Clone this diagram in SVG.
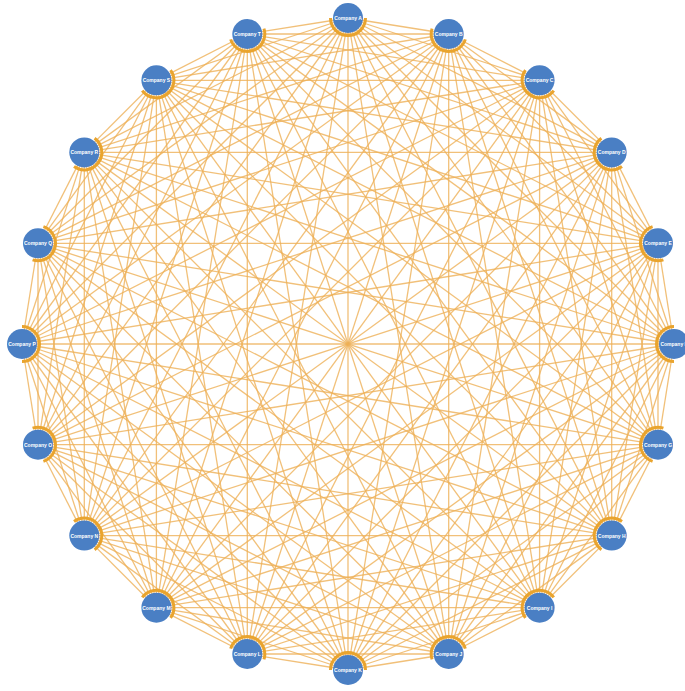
<svg xmlns="http://www.w3.org/2000/svg" width="685" height="691" viewBox="0 0 685 691">
<style>
.e{stroke:#eeb057;stroke-width:1.3;stroke-opacity:0.8;fill:none}
.arc{fill:none;stroke:#e9a42e;stroke-width:3}
.n{fill:#4a7fc4}
.t{fill:#ffffff;font-family:"Liberation Sans",Arial,sans-serif;font-size:5px;font-weight:bold;text-anchor:middle;dominant-baseline:central}
</style>
<defs>
<path id="a" d="M0,-17.5 A17.5,17.5 0 0 1 0,17.5"/>
</defs>
<rect width="685" height="691" fill="#ffffff"/>
<g id="connectors">
<line class="e" x1="348" y1="18" x2="448.7" y2="34"/>
<line class="e" x1="348" y1="18" x2="539.6" y2="80.3"/>
<line class="e" x1="348" y1="18" x2="611.7" y2="152.4"/>
<line class="e" x1="348" y1="18" x2="658" y2="243.3"/>
<line class="e" x1="348" y1="18" x2="674" y2="344"/>
<line class="e" x1="348" y1="18" x2="658" y2="444.7"/>
<line class="e" x1="348" y1="18" x2="611.7" y2="535.6"/>
<line class="e" x1="348" y1="18" x2="539.6" y2="607.7"/>
<line class="e" x1="348" y1="18" x2="448.7" y2="654"/>
<line class="e" x1="348" y1="18" x2="348" y2="670"/>
<line class="e" x1="348" y1="18" x2="247.3" y2="654"/>
<line class="e" x1="348" y1="18" x2="156.4" y2="607.7"/>
<line class="e" x1="348" y1="18" x2="84.3" y2="535.6"/>
<line class="e" x1="348" y1="18" x2="38" y2="444.7"/>
<line class="e" x1="348" y1="18" x2="22" y2="344"/>
<line class="e" x1="348" y1="18" x2="38" y2="243.3"/>
<line class="e" x1="348" y1="18" x2="84.3" y2="152.4"/>
<line class="e" x1="348" y1="18" x2="156.4" y2="80.3"/>
<line class="e" x1="348" y1="18" x2="247.3" y2="34"/>
<line class="e" x1="448.7" y1="34" x2="539.6" y2="80.3"/>
<line class="e" x1="448.7" y1="34" x2="611.7" y2="152.4"/>
<line class="e" x1="448.7" y1="34" x2="658" y2="243.3"/>
<line class="e" x1="448.7" y1="34" x2="674" y2="344"/>
<line class="e" x1="448.7" y1="34" x2="658" y2="444.7"/>
<line class="e" x1="448.7" y1="34" x2="611.7" y2="535.6"/>
<line class="e" x1="448.7" y1="34" x2="539.6" y2="607.7"/>
<line class="e" x1="448.7" y1="34" x2="448.7" y2="654"/>
<line class="e" x1="448.7" y1="34" x2="348" y2="670"/>
<line class="e" x1="448.7" y1="34" x2="247.3" y2="654"/>
<line class="e" x1="448.7" y1="34" x2="156.4" y2="607.7"/>
<line class="e" x1="448.7" y1="34" x2="84.3" y2="535.6"/>
<line class="e" x1="448.7" y1="34" x2="38" y2="444.7"/>
<line class="e" x1="448.7" y1="34" x2="22" y2="344"/>
<line class="e" x1="448.7" y1="34" x2="38" y2="243.3"/>
<line class="e" x1="448.7" y1="34" x2="84.3" y2="152.4"/>
<line class="e" x1="448.7" y1="34" x2="156.4" y2="80.3"/>
<line class="e" x1="448.7" y1="34" x2="247.3" y2="34"/>
<line class="e" x1="539.6" y1="80.3" x2="611.7" y2="152.4"/>
<line class="e" x1="539.6" y1="80.3" x2="658" y2="243.3"/>
<line class="e" x1="539.6" y1="80.3" x2="674" y2="344"/>
<line class="e" x1="539.6" y1="80.3" x2="658" y2="444.7"/>
<line class="e" x1="539.6" y1="80.3" x2="611.7" y2="535.6"/>
<line class="e" x1="539.6" y1="80.3" x2="539.6" y2="607.7"/>
<line class="e" x1="539.6" y1="80.3" x2="448.7" y2="654"/>
<line class="e" x1="539.6" y1="80.3" x2="348" y2="670"/>
<line class="e" x1="539.6" y1="80.3" x2="247.3" y2="654"/>
<line class="e" x1="539.6" y1="80.3" x2="156.4" y2="607.7"/>
<line class="e" x1="539.6" y1="80.3" x2="84.3" y2="535.6"/>
<line class="e" x1="539.6" y1="80.3" x2="38" y2="444.7"/>
<line class="e" x1="539.6" y1="80.3" x2="22" y2="344"/>
<line class="e" x1="539.6" y1="80.3" x2="38" y2="243.3"/>
<line class="e" x1="539.6" y1="80.3" x2="84.3" y2="152.4"/>
<line class="e" x1="539.6" y1="80.3" x2="156.4" y2="80.3"/>
<line class="e" x1="539.6" y1="80.3" x2="247.3" y2="34"/>
<line class="e" x1="611.7" y1="152.4" x2="658" y2="243.3"/>
<line class="e" x1="611.7" y1="152.4" x2="674" y2="344"/>
<line class="e" x1="611.7" y1="152.4" x2="658" y2="444.7"/>
<line class="e" x1="611.7" y1="152.4" x2="611.7" y2="535.6"/>
<line class="e" x1="611.7" y1="152.4" x2="539.6" y2="607.7"/>
<line class="e" x1="611.7" y1="152.4" x2="448.7" y2="654"/>
<line class="e" x1="611.7" y1="152.4" x2="348" y2="670"/>
<line class="e" x1="611.7" y1="152.4" x2="247.3" y2="654"/>
<line class="e" x1="611.7" y1="152.4" x2="156.4" y2="607.7"/>
<line class="e" x1="611.7" y1="152.4" x2="84.3" y2="535.6"/>
<line class="e" x1="611.7" y1="152.4" x2="38" y2="444.7"/>
<line class="e" x1="611.7" y1="152.4" x2="22" y2="344"/>
<line class="e" x1="611.7" y1="152.4" x2="38" y2="243.3"/>
<line class="e" x1="611.7" y1="152.4" x2="84.3" y2="152.4"/>
<line class="e" x1="611.7" y1="152.4" x2="156.4" y2="80.3"/>
<line class="e" x1="611.7" y1="152.4" x2="247.3" y2="34"/>
<line class="e" x1="658" y1="243.3" x2="674" y2="344"/>
<line class="e" x1="658" y1="243.3" x2="658" y2="444.7"/>
<line class="e" x1="658" y1="243.3" x2="611.7" y2="535.6"/>
<line class="e" x1="658" y1="243.3" x2="539.6" y2="607.7"/>
<line class="e" x1="658" y1="243.3" x2="448.7" y2="654"/>
<line class="e" x1="658" y1="243.3" x2="348" y2="670"/>
<line class="e" x1="658" y1="243.3" x2="247.3" y2="654"/>
<line class="e" x1="658" y1="243.3" x2="156.4" y2="607.7"/>
<line class="e" x1="658" y1="243.3" x2="84.3" y2="535.6"/>
<line class="e" x1="658" y1="243.3" x2="38" y2="444.7"/>
<line class="e" x1="658" y1="243.3" x2="22" y2="344"/>
<line class="e" x1="658" y1="243.3" x2="38" y2="243.3"/>
<line class="e" x1="658" y1="243.3" x2="84.3" y2="152.4"/>
<line class="e" x1="658" y1="243.3" x2="156.4" y2="80.3"/>
<line class="e" x1="658" y1="243.3" x2="247.3" y2="34"/>
<line class="e" x1="674" y1="344" x2="658" y2="444.7"/>
<line class="e" x1="674" y1="344" x2="611.7" y2="535.6"/>
<line class="e" x1="674" y1="344" x2="539.6" y2="607.7"/>
<line class="e" x1="674" y1="344" x2="448.7" y2="654"/>
<line class="e" x1="674" y1="344" x2="348" y2="670"/>
<line class="e" x1="674" y1="344" x2="247.3" y2="654"/>
<line class="e" x1="674" y1="344" x2="156.4" y2="607.7"/>
<line class="e" x1="674" y1="344" x2="84.3" y2="535.6"/>
<line class="e" x1="674" y1="344" x2="38" y2="444.7"/>
<line class="e" x1="674" y1="344" x2="22" y2="344"/>
<line class="e" x1="674" y1="344" x2="38" y2="243.3"/>
<line class="e" x1="674" y1="344" x2="84.3" y2="152.4"/>
<line class="e" x1="674" y1="344" x2="156.4" y2="80.3"/>
<line class="e" x1="674" y1="344" x2="247.3" y2="34"/>
<line class="e" x1="658" y1="444.7" x2="611.7" y2="535.6"/>
<line class="e" x1="658" y1="444.7" x2="539.6" y2="607.7"/>
<line class="e" x1="658" y1="444.7" x2="448.7" y2="654"/>
<line class="e" x1="658" y1="444.7" x2="348" y2="670"/>
<line class="e" x1="658" y1="444.7" x2="247.3" y2="654"/>
<line class="e" x1="658" y1="444.7" x2="156.4" y2="607.7"/>
<line class="e" x1="658" y1="444.7" x2="84.3" y2="535.6"/>
<line class="e" x1="658" y1="444.7" x2="38" y2="444.7"/>
<line class="e" x1="658" y1="444.7" x2="22" y2="344"/>
<line class="e" x1="658" y1="444.7" x2="38" y2="243.3"/>
<line class="e" x1="658" y1="444.7" x2="84.3" y2="152.4"/>
<line class="e" x1="658" y1="444.7" x2="156.4" y2="80.3"/>
<line class="e" x1="658" y1="444.7" x2="247.3" y2="34"/>
<line class="e" x1="611.7" y1="535.6" x2="539.6" y2="607.7"/>
<line class="e" x1="611.7" y1="535.6" x2="448.7" y2="654"/>
<line class="e" x1="611.7" y1="535.6" x2="348" y2="670"/>
<line class="e" x1="611.7" y1="535.6" x2="247.3" y2="654"/>
<line class="e" x1="611.7" y1="535.6" x2="156.4" y2="607.7"/>
<line class="e" x1="611.7" y1="535.6" x2="84.3" y2="535.6"/>
<line class="e" x1="611.7" y1="535.6" x2="38" y2="444.7"/>
<line class="e" x1="611.7" y1="535.6" x2="22" y2="344"/>
<line class="e" x1="611.7" y1="535.6" x2="38" y2="243.3"/>
<line class="e" x1="611.7" y1="535.6" x2="84.3" y2="152.4"/>
<line class="e" x1="611.7" y1="535.6" x2="156.4" y2="80.3"/>
<line class="e" x1="611.7" y1="535.6" x2="247.3" y2="34"/>
<line class="e" x1="539.6" y1="607.7" x2="448.7" y2="654"/>
<line class="e" x1="539.6" y1="607.7" x2="348" y2="670"/>
<line class="e" x1="539.6" y1="607.7" x2="247.3" y2="654"/>
<line class="e" x1="539.6" y1="607.7" x2="156.4" y2="607.7"/>
<line class="e" x1="539.6" y1="607.7" x2="84.3" y2="535.6"/>
<line class="e" x1="539.6" y1="607.7" x2="38" y2="444.7"/>
<line class="e" x1="539.6" y1="607.7" x2="22" y2="344"/>
<line class="e" x1="539.6" y1="607.7" x2="38" y2="243.3"/>
<line class="e" x1="539.6" y1="607.7" x2="84.3" y2="152.4"/>
<line class="e" x1="539.6" y1="607.7" x2="156.4" y2="80.3"/>
<line class="e" x1="539.6" y1="607.7" x2="247.3" y2="34"/>
<line class="e" x1="448.7" y1="654" x2="348" y2="670"/>
<line class="e" x1="448.7" y1="654" x2="247.3" y2="654"/>
<line class="e" x1="448.7" y1="654" x2="156.4" y2="607.7"/>
<line class="e" x1="448.7" y1="654" x2="84.3" y2="535.6"/>
<line class="e" x1="448.7" y1="654" x2="38" y2="444.7"/>
<line class="e" x1="448.7" y1="654" x2="22" y2="344"/>
<line class="e" x1="448.7" y1="654" x2="38" y2="243.3"/>
<line class="e" x1="448.7" y1="654" x2="84.3" y2="152.4"/>
<line class="e" x1="448.7" y1="654" x2="156.4" y2="80.3"/>
<line class="e" x1="448.7" y1="654" x2="247.3" y2="34"/>
<line class="e" x1="348" y1="670" x2="247.3" y2="654"/>
<line class="e" x1="348" y1="670" x2="156.4" y2="607.7"/>
<line class="e" x1="348" y1="670" x2="84.3" y2="535.6"/>
<line class="e" x1="348" y1="670" x2="38" y2="444.7"/>
<line class="e" x1="348" y1="670" x2="22" y2="344"/>
<line class="e" x1="348" y1="670" x2="38" y2="243.3"/>
<line class="e" x1="348" y1="670" x2="84.3" y2="152.4"/>
<line class="e" x1="348" y1="670" x2="156.4" y2="80.3"/>
<line class="e" x1="348" y1="670" x2="247.3" y2="34"/>
<line class="e" x1="247.3" y1="654" x2="156.4" y2="607.7"/>
<line class="e" x1="247.3" y1="654" x2="84.3" y2="535.6"/>
<line class="e" x1="247.3" y1="654" x2="38" y2="444.7"/>
<line class="e" x1="247.3" y1="654" x2="22" y2="344"/>
<line class="e" x1="247.3" y1="654" x2="38" y2="243.3"/>
<line class="e" x1="247.3" y1="654" x2="84.3" y2="152.4"/>
<line class="e" x1="247.3" y1="654" x2="156.4" y2="80.3"/>
<line class="e" x1="247.3" y1="654" x2="247.3" y2="34"/>
<line class="e" x1="156.4" y1="607.7" x2="84.3" y2="535.6"/>
<line class="e" x1="156.4" y1="607.7" x2="38" y2="444.7"/>
<line class="e" x1="156.4" y1="607.7" x2="22" y2="344"/>
<line class="e" x1="156.4" y1="607.7" x2="38" y2="243.3"/>
<line class="e" x1="156.4" y1="607.7" x2="84.3" y2="152.4"/>
<line class="e" x1="156.4" y1="607.7" x2="156.4" y2="80.3"/>
<line class="e" x1="156.4" y1="607.7" x2="247.3" y2="34"/>
<line class="e" x1="84.3" y1="535.6" x2="38" y2="444.7"/>
<line class="e" x1="84.3" y1="535.6" x2="22" y2="344"/>
<line class="e" x1="84.3" y1="535.6" x2="38" y2="243.3"/>
<line class="e" x1="84.3" y1="535.6" x2="84.3" y2="152.4"/>
<line class="e" x1="84.3" y1="535.6" x2="156.4" y2="80.3"/>
<line class="e" x1="84.3" y1="535.6" x2="247.3" y2="34"/>
<line class="e" x1="38" y1="444.7" x2="22" y2="344"/>
<line class="e" x1="38" y1="444.7" x2="38" y2="243.3"/>
<line class="e" x1="38" y1="444.7" x2="84.3" y2="152.4"/>
<line class="e" x1="38" y1="444.7" x2="156.4" y2="80.3"/>
<line class="e" x1="38" y1="444.7" x2="247.3" y2="34"/>
<line class="e" x1="22" y1="344" x2="38" y2="243.3"/>
<line class="e" x1="22" y1="344" x2="84.3" y2="152.4"/>
<line class="e" x1="22" y1="344" x2="156.4" y2="80.3"/>
<line class="e" x1="22" y1="344" x2="247.3" y2="34"/>
<line class="e" x1="38" y1="243.3" x2="84.3" y2="152.4"/>
<line class="e" x1="38" y1="243.3" x2="156.4" y2="80.3"/>
<line class="e" x1="38" y1="243.3" x2="247.3" y2="34"/>
<line class="e" x1="84.3" y1="152.4" x2="156.4" y2="80.3"/>
<line class="e" x1="84.3" y1="152.4" x2="247.3" y2="34"/>
<line class="e" x1="156.4" y1="80.3" x2="247.3" y2="34"/>
</g>
<g id="nodeA"><use href="#a" class="arc" transform="translate(348,18) rotate(90)"/><circle class="n" cx="348" cy="18" r="15"/><text class="t" x="348" y="18">Company A</text></g>
<g id="nodeB"><use href="#a" class="arc" transform="translate(448.7,34) rotate(108)"/><circle class="n" cx="448.7" cy="34" r="15"/><text class="t" x="448.7" y="34">Company B</text></g>
<g id="nodeC"><use href="#a" class="arc" transform="translate(539.6,80.3) rotate(126)"/><circle class="n" cx="539.6" cy="80.3" r="15"/><text class="t" x="539.6" y="80.3">Company C</text></g>
<g id="nodeD"><use href="#a" class="arc" transform="translate(611.7,152.4) rotate(144)"/><circle class="n" cx="611.7" cy="152.4" r="15"/><text class="t" x="611.7" y="152.4">Company D</text></g>
<g id="nodeE"><use href="#a" class="arc" transform="translate(658,243.3) rotate(162)"/><circle class="n" cx="658" cy="243.3" r="15"/><text class="t" x="658" y="243.3">Company E</text></g>
<g id="nodeF"><use href="#a" class="arc" transform="translate(674,344) rotate(180)"/><circle class="n" cx="674" cy="344" r="15"/><text class="t" x="674" y="344">Company F</text></g>
<g id="nodeG"><use href="#a" class="arc" transform="translate(658,444.7) rotate(198)"/><circle class="n" cx="658" cy="444.7" r="15"/><text class="t" x="658" y="444.7">Company G</text></g>
<g id="nodeH"><use href="#a" class="arc" transform="translate(611.7,535.6) rotate(216)"/><circle class="n" cx="611.7" cy="535.6" r="15"/><text class="t" x="611.7" y="535.6">Company H</text></g>
<g id="nodeI"><use href="#a" class="arc" transform="translate(539.6,607.7) rotate(234)"/><circle class="n" cx="539.6" cy="607.7" r="15"/><text class="t" x="539.6" y="607.7">Company I</text></g>
<g id="nodeJ"><use href="#a" class="arc" transform="translate(448.7,654) rotate(252)"/><circle class="n" cx="448.7" cy="654" r="15"/><text class="t" x="448.7" y="654">Company J</text></g>
<g id="nodeK"><use href="#a" class="arc" transform="translate(348,670) rotate(270)"/><circle class="n" cx="348" cy="670" r="15"/><text class="t" x="348" y="670">Company K</text></g>
<g id="nodeL"><use href="#a" class="arc" transform="translate(247.3,654) rotate(288)"/><circle class="n" cx="247.3" cy="654" r="15"/><text class="t" x="247.3" y="654">Company L</text></g>
<g id="nodeM"><use href="#a" class="arc" transform="translate(156.4,607.7) rotate(306)"/><circle class="n" cx="156.4" cy="607.7" r="15"/><text class="t" x="156.4" y="607.7">Company M</text></g>
<g id="nodeN"><use href="#a" class="arc" transform="translate(84.3,535.6) rotate(324)"/><circle class="n" cx="84.3" cy="535.6" r="15"/><text class="t" x="84.3" y="535.6">Company N</text></g>
<g id="nodeO"><use href="#a" class="arc" transform="translate(38,444.7) rotate(342)"/><circle class="n" cx="38" cy="444.7" r="15"/><text class="t" x="38" y="444.7">Company O</text></g>
<g id="nodeP"><use href="#a" class="arc" transform="translate(22,344) rotate(0)"/><circle class="n" cx="22" cy="344" r="15"/><text class="t" x="22" y="344">Company P</text></g>
<g id="nodeQ"><use href="#a" class="arc" transform="translate(38,243.3) rotate(18)"/><circle class="n" cx="38" cy="243.3" r="15"/><text class="t" x="38" y="243.3">Company Q</text></g>
<g id="nodeR"><use href="#a" class="arc" transform="translate(84.3,152.4) rotate(36)"/><circle class="n" cx="84.3" cy="152.4" r="15"/><text class="t" x="84.3" y="152.4">Company R</text></g>
<g id="nodeS"><use href="#a" class="arc" transform="translate(156.4,80.3) rotate(54)"/><circle class="n" cx="156.4" cy="80.3" r="15"/><text class="t" x="156.4" y="80.3">Company S</text></g>
<g id="nodeT"><use href="#a" class="arc" transform="translate(247.3,34) rotate(72)"/><circle class="n" cx="247.3" cy="34" r="15"/><text class="t" x="247.3" y="34">Company T</text></g>
</svg>
